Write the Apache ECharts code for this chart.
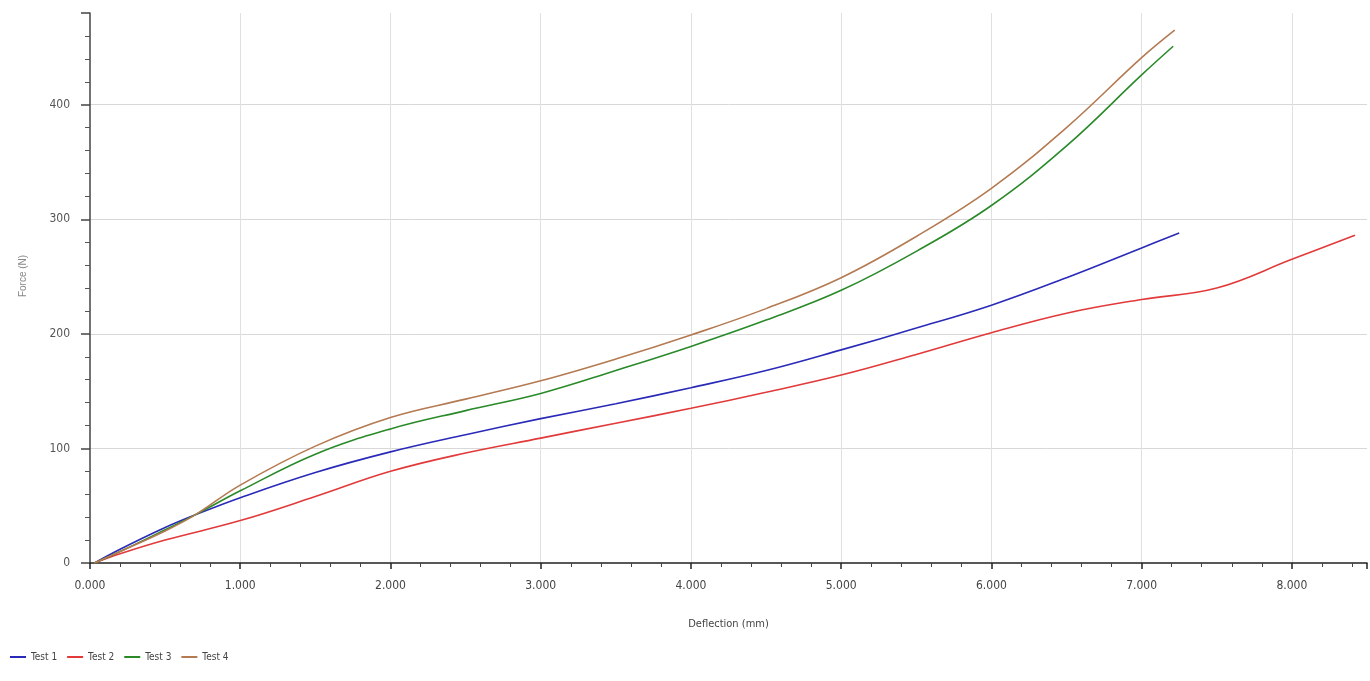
<!DOCTYPE html>
<html><head><meta charset="utf-8">
<script src="https://cdn.jsdelivr.net/npm/echarts@6/dist/echarts.min.js"></script>
<style>html,body{margin:0;padding:0;background:#fff}#c{width:1370px;height:681px}</style>
</head><body><div id="c"></div>
<script>
const seriesNames = ["Test 1", "Test 2", "Test 3", "Test 4"];
const test1 = [[0.03,0],[0.2,12],[0.5,31],[0.7,42],[1.0,57],[1.5,79],[2.0,97],[2.5,112],[3.0,126],[3.5,139],[4.0,153],[4.5,168],[5.0,186],[5.5,205],[6.0,225],[6.5,249],[7.0,275],[7.25,288]];
const test2 = [[0.03,0],[0.2,8],[0.5,20],[1.0,37],[1.5,58],[2.0,80],[2.5,96],[3.0,109],[3.5,122],[4.0,135],[4.5,149],[5.0,164],[5.5,182],[6.0,201],[6.5,218],[7.0,230],[7.5,240],[8.0,265],[8.42,286]];
const test3 = [[0.03,0],[0.2,10],[0.5,29],[0.7,42],[1.0,63],[1.5,95],[2.0,117],[2.5,133],[3.0,148],[3.5,168],[4.0,189],[4.5,212],[5.0,238],[5.5,272],[6.0,312],[6.5,364],[7.0,426],[7.21,451]];
const test4 = [[0.03,0],[0.2,10],[0.5,28],[0.7,42],[1.0,68],[1.5,102],[2.0,127],[2.5,143],[3.0,159],[3.5,178],[4.0,199],[4.5,222],[5.0,249],[5.5,285],[6.0,327],[6.5,380],[7.0,441],[7.22,465]];
const seriesData = [test1, test2, test3, test4];
const colors = ["#2a2ab8", "#e23a3a", "#2a8a2a", "#b47a52"];
const xTickLabels = ["0.000","1.000","2.000","3.000","4.000","5.000","6.000","7.000","8.000"];
const yTickLabels = ["0","100","200","300","400"];

const font = "'Liberation Sans Narrow', 'DejaVu Sans Condensed', sans-serif";
const chart = echarts.init(document.getElementById('c'));
chart.setOption({
  animation: false,
  backgroundColor: '#fff',
  color: colors,
  grid: {left: 90, right: 0, top: 13, bottom: 118, containLabel: false},
  legend: {
    left: 5, bottom: 14, itemWidth: 16, itemHeight: 2, itemGap: 10,
    icon: 'rect',
    textStyle: {fontFamily: font, fontSize: 10, color: '#444'},
    data: seriesNames
  },
  xAxis: {
    type: 'value', min: 0, max: 8.5, interval: 1,
    name: 'Deflection (mm)', nameLocation: 'middle', nameGap: 56,
    nameTextStyle: {fontFamily: font, fontSize: 11, color: '#444'},
    axisLine: {show: true, onZero: false, lineStyle: {color: '#222', width: 1.5}},
    axisTick: {show: true, length: 6, lineStyle: {color: '#222', width: 1.5}},
    minorTick: {show: true, splitNumber: 5, length: 4, lineStyle: {color: '#444'}},
    axisLabel: {fontFamily: font, fontSize: 12, color: '#444', margin: 17,
      formatter: v => { const i = Math.round(v); return (Math.abs(v - i) < 1e-6 && xTickLabels[i]) ? xTickLabels[i] : ''; }},
    splitLine: {show: true, showMaxLine: false, showMinLine: false, lineStyle: {color: '#e0e0e0', width: 1}}
  },
  yAxis: {
    type: 'value', min: 0, max: 480, interval: 100,
    name: 'Force (N)', nameLocation: 'middle', nameGap: 62, nameRotate: 90,
    nameTextStyle: {fontFamily: "'Liberation Sans', sans-serif", fontSize: 10, color: '#888', padding: [0, 0, 0, 24]},
    axisLine: {show: true, onZero: false, lineStyle: {color: '#444', width: 1.5}},
    axisTick: {show: true, length: 9, lineStyle: {color: '#444', width: 1.5}},
    minorTick: {show: true, splitNumber: 5, length: 5, lineStyle: {color: '#555'}},
    axisLabel: {fontFamily: font, fontSize: 12, color: '#555', margin: 20,
      formatter: v => { const i = Math.round(v / 100); return (Math.abs(v - i*100) < 1e-6 && yTickLabels[i] !== undefined) ? yTickLabels[i] : ''; }},
    splitLine: {show: true, showMaxLine: false, showMinLine: false, lineStyle: {color: '#d8d8d8', width: 1}}
  },
  series: seriesNames.map((n, i) => ({
    name: n, type: 'line', data: seriesData[i], smooth: 0.4, showSymbol: false,
    lineStyle: {width: 1.6, color: colors[i]}, itemStyle: {color: colors[i]}
  }))
});
</script></body></html>
